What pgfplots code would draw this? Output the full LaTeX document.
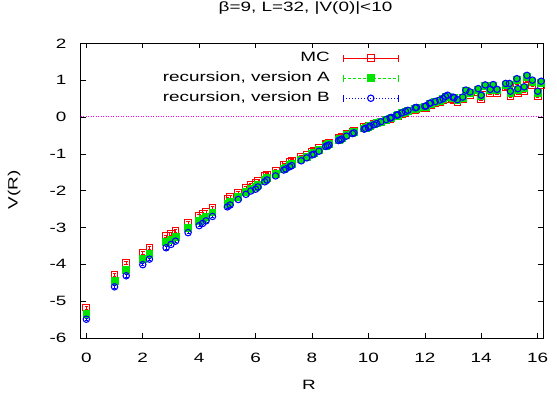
\documentclass[border=0pt]{standalone}
\usepackage{pgfplots}
\pgfplotsset{compat=1.18}
\usepackage{pgfplotstable}
\usepackage{fontspec}
\setmainfont[FakeStretch=1.4]{Liberation Sans}
\definecolor{gpred}{RGB}{255,0,0}
\definecolor{gpgreen}{RGB}{0,230,0}
\definecolor{gpblue}{RGB}{0,0,255}
\definecolor{gpmag}{RGB}{255,0,255}

\pgfplotstableread{
R mc a b
0 -5.17 -5.34 -5.49
1 -4.28 -4.45 -4.61
1.414 -3.96 -4.15 -4.31
2 -3.68 -3.85 -4.01
2.236 -3.55 -3.72 -3.86
2.828 -3.24 -3.40 -3.55
3 -3.18 -3.33 -3.46
3.162 -3.10 -3.25 -3.37
3.606 -2.87 -3.02 -3.14
4 -2.68 -2.83 -2.95
4.123 -2.62 -2.77 -2.89
4.243 -2.57 -2.71 -2.82
4.472 -2.46 -2.59 -2.70
5 -2.23 -2.36 -2.44
5.099 -2.17 -2.30 -2.39
5.385 -2.05 -2.16 -2.24
5.657 -1.92 -2.03 -2.10
5.831 -1.84 -1.95 -2.01
6 -1.79 -1.89 -1.96
6.083 -1.74 -1.84 -1.90
6.325 -1.61 -1.70 -1.76
6.403 -1.58 -1.66 -1.71
6.708 -1.46 -1.55 -1.60
7 -1.31 -1.40 -1.44
7.071 -1.29 -1.37 -1.41
7.211 -1.23 -1.31 -1.35
7.280 -1.20 -1.28 -1.32
7.616 -1.08 -1.15 -1.19
7.810 -1.04 -1.09 -1.11
8 -0.95 -1.00 -1.03
8.062 -0.93 -0.98 -1.01
8.246 -0.85 -0.90 -0.93
8.485 -0.74 -0.78 -0.80
8.544 -0.72 -0.76 -0.78
8.602 -0.70 -0.74 -0.76
8.944 -0.58 -0.62 -0.64
9 -0.56 -0.60 -0.62
9.055 -0.55 -0.58 -0.60
9.220 -0.45 -0.49 -0.52
9.434 -0.40 -0.43 -0.45
9.487 -0.38 -0.41 -0.43
9.849 -0.28 -0.31 -0.33
9.899 -0.27 -0.30 -0.31
10 -0.25 -0.27 -0.29
10.050 -0.23 -0.24 -0.25
10.198 -0.20 -0.20 -0.21
10.296 -0.17 -0.17 -0.18
10.440 -0.13 -0.13 -0.13
10.630 -0.08 -0.07 -0.07
10.770 -0.05 -0.04 -0.03
10.817 -0.03 -0.02 -0.01
11 0.02 0.04 0.05
11.045 0.03 0.05 0.06
11.180 0.08 0.10 0.11
11.314 0.12 0.14 0.15
11.402 0.15 0.17 0.18
11.662 0.20 0.23 0.25
11.705 0.21 0.24 0.26
12 0.24 0.27 0.29
12.042 0.25 0.28 0.30
12.166 0.32 0.35 0.37
12.207 0.33 0.36 0.38
12.369 0.37 0.40 0.42
12.530 0.40 0.44 0.46
12.649 0.45 0.48 0.50
12.728 0.50 0.54 0.56
12.806 0.53 0.56 0.59
13 0.48 0.52 0.54
13.038 0.47 0.51 0.52
13.153 0.41 0.45 0.47
13.342 0.48 0.52 0.54
13.454 0.65 0.70 0.73
13.601 0.60 0.65 0.68
13.892 0.68 0.74 0.77
14 0.50 0.56 0.59
14.142 0.78 0.84 0.87
14.318 0.65 0.72 0.75
14.422 0.79 0.85 0.88
14.560 0.65 0.72 0.75
14.866 0.80 0.87 0.91
15 0.80 0.87 0.91
15.033 0.57 0.65 0.70
15.264 0.93 1.00 1.04
15.297 0.66 0.73 0.77
15.524 0.71 0.78 0.82
15.620 1.02 1.09 1.13
15.811 0.88 0.95 1.00
16 0.57 0.65 0.70
16.125 0.86 0.93 0.97
}\vdata

\begin{document}
\fontsize{13.5bp}{16bp}\selectfont
\begin{tikzpicture}
\begin{axis}[
  scale only axis, width=462.6bp, height=294.7bp,
  xmin=-0.2, xmax=16.2, ymin=-6, ymax=2,
  xtick={0,2,...,16}, ytick={-6,-5,...,2},
  tick align=inside, major tick length=5bp,
  tick style={black, line width=0.6bp},
  axis line style={black, line width=0.8bp},
  /pgf/number format/assume math mode=true,
  xticklabel style={anchor=center, inner sep=0pt, yshift=-20bp},
  yticklabel style={anchor=east, inner sep=0pt, xshift=-14bp},
  title={β=9, L=32, |V(0)|<10},
  title style={at={(axis description cs:0.486,1.10)}, anchor=center, inner sep=0pt},
  xlabel={R},
  xlabel style={at={(axis description cs:0.4935,-0.159)}, anchor=center, inner sep=0pt},
  ylabel={V(R)},
  ylabel style={at={(axis description cs:-0.144,0.502)}, anchor=center, rotate=0, inner sep=0pt},
  legend plot pos=right,
  legend cell align=right,
  legend style={at={(axis description cs:0.688,0.972)}, anchor=north east,
    draw=none, fill=none, inner sep=0pt, column sep=13bp, row sep=7bp,
    nodes={inner sep=0pt, text height=10bp, text depth=3bp}},
]
\coordinate (o) at (rel axis cs:0,0);

% zero line
\addplot[draw=gpmag, color=gpmag, mark=none, line width=1bp,
  dash pattern=on 1.2bp off 1.3bp, forget plot]
  coordinates {(-0.2,0) (16.2,0)};

% MC
\addplot[only marks, gpred, mark=square, mark size=3.4bp, line width=0.9bp,
  error bars/y dir=both, error bars/y fixed=0.04,
  error bars/error bar style={gpred, line width=0.7bp},
  error bars/error mark options={rotate=90, mark size=1.8bp, gpred, line width=0.7bp},
  legend image code/.code={
    \draw[gpred, line width=0.9bp] (0bp,0bp) -- (55bp,0bp)
      (0bp,-3.5bp) -- (0bp,3.5bp) (55bp,-3.5bp) -- (55bp,3.5bp);
    \draw[gpred, line width=0.9bp] plot[mark=square, mark size=3.4bp] coordinates {(27.5bp,0bp)};
  }] table[x=R, y=mc] \vdata;
\addlegendentry{MC}

% recursion A
\addplot[only marks, gpgreen, mark=square*, mark size=3.4bp, line width=0.8bp,
  mark options={fill=gpgreen, draw=gpgreen},
  legend image code/.code={
    \draw[gpgreen, line width=0.8bp, dash pattern=on 3bp off 2bp] (0bp,0bp) -- (55bp,0bp);
    \draw[gpgreen, line width=0.8bp] (0bp,-3.5bp) -- (0bp,3.5bp) (55bp,-3.5bp) -- (55bp,3.5bp);
    \draw[gpgreen, fill=gpgreen] plot[mark=square*, mark size=3.4bp] coordinates {(27.5bp,0bp)};
  }] table[x=R, y=a] \vdata;
\addlegendentry{recursion, version A}

% recursion B
\addplot[only marks, gpblue, mark=o, mark size=3.2bp, line width=1.1bp,
  error bars/y dir=both, error bars/y fixed=0.03,
  error bars/error bar style={gpblue, line width=0.6bp},
  error bars/error mark options={rotate=90, mark size=1.5bp, gpblue, line width=0.6bp},
  legend image code/.code={
    \draw[gpblue, line width=0.8bp, dash pattern=on 1bp off 2bp] (0bp,0bp) -- (55bp,0bp);
    \draw[gpblue, line width=0.8bp] (0bp,-3.5bp) -- (0bp,3.5bp) (55bp,-3.5bp) -- (55bp,3.5bp);
    \draw[gpblue, line width=1.1bp] plot[mark=o, mark size=3.2bp] coordinates {(27.5bp,0bp)};
  }] table[x=R, y=b] \vdata;
\addlegendentry{recursion, version B}
\end{axis}
\pgfresetboundingbox
\path (o) ++(-80.7bp,-64bp) rectangle ++(557bp,402bp);
\end{tikzpicture}
\end{document}
